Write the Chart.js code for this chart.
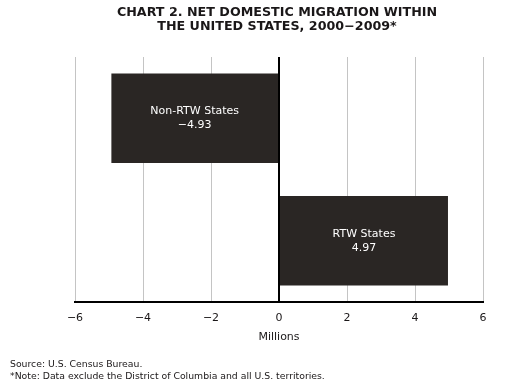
<!DOCTYPE html>
<html><head><meta charset="utf-8">
<script src="https://cdn.jsdelivr.net/npm/chart.js@4/dist/chart.umd.min.js"></script>
<style>html,body{margin:0;padding:0;background:#fff;}#wrap{position:relative;width:508px;height:385px;}</style>
</head><body><div id="wrap"><canvas id="c" width="508" height="385"></canvas></div>
<script>
const categories = ["Non-RTW States", "RTW States"];
const values = [-4.93, 4.97];
const valueLabels = ["\u22124.93", "4.97"];
const tickValues = [-6, -4, -2, 0, 2, 4, 6];
const titleLines = ["CHART 2. NET DOMESTIC MIGRATION WITHIN", "THE UNITED STATES, 2000\u22122009*"];
const footerLines = ["Source: U.S. Census Bureau.", "*Note: Data exclude the District of Columbia and all U.S. territories."];
const FONT = "'DejaVu Sans', Verdana, sans-serif";

const textPlugin = {
  id: 'texts',
  afterDraw(chart) {
    const ctx = chart.ctx;
    ctx.save();
    ctx.fillStyle = '#1a1718';
    ctx.font = "bold 12.7px " + FONT;
    ctx.textAlign = 'center';
    ctx.textBaseline = 'middle';
    ctx.fillText(titleLines[0], 277, 13);
    ctx.fillText(titleLines[1], 277, 27);
    ctx.font = "9.3px " + FONT;
    ctx.textAlign = 'left';
    ctx.fillText(footerLines[0], 10, 365);
    ctx.fillText(footerLines[1], 10, 377);
    // bar labels
    const meta = chart.getDatasetMeta(0);
    ctx.fillStyle = '#ffffff';
    ctx.font = "11px " + FONT;
    ctx.textAlign = 'center';
    meta.data.forEach((bar, i) => {
      const cx = (bar.x + bar.base) / 2;
      ctx.fillText(categories[i], cx, bar.y - 7);
      ctx.fillText(valueLabels[i], cx, bar.y + 7);
    });
    ctx.restore();
  }
};

new Chart(document.getElementById('c'), {
  type: 'bar',
  data: {
    labels: categories,
    datasets: [{
      data: values,
      backgroundColor: '#2a2624',
      borderWidth: 0,
      categoryPercentage: 1,
      barPercentage: 0.73
    }]
  },
  options: {
    indexAxis: 'y',
    responsive: false,
    animation: false,
    devicePixelRatio: 1,
    layout: { padding: { top: 57, right: 25, left: 0, bottom: 37 } },
    plugins: { legend: { display: false }, tooltip: { enabled: false }, title: { display: false } },
    scales: {
      x: {
        min: -6, max: 6,
        afterBuildTicks: s => { s.ticks = tickValues.map(v => ({ value: v })); },
        afterFit: s => { s.height = 46; },
        grid: {
          drawTicks: false,
          color: ctx => ctx.tick && ctx.tick.value === 0 ? '#000000' : '#c4c4c4',
          lineWidth: ctx => ctx.tick && ctx.tick.value === 0 ? 2 : 1
        },
        border: { display: true, color: '#000000', width: 2 },
        ticks: {
          padding: 10,
          color: '#1a1718',
          font: { family: FONT, size: 11 },
          callback: v => v < 0 ? '\u2212' + Math.abs(v) : String(v)
        },
        title: { display: true, text: 'Millions', color: '#1a1718', font: { family: FONT, size: 11 }, padding: { top: 5, bottom: 4 } }
      },
      y: {
        afterFit: s => { s.width = 75; },
        grid: { display: false },
        border: { display: false },
        ticks: { display: false }
      }
    }
  },
  plugins: [textPlugin]
});
</script></body></html>
